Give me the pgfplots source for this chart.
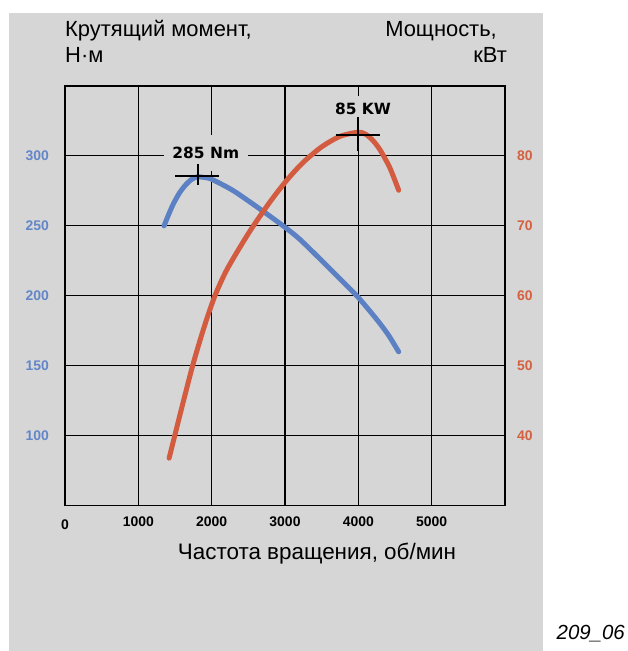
\documentclass[border=0pt]{standalone}
\usepackage{fontspec}
\setmainfont{Liberation Sans}
\newfontfamily\dejavu{DejaVu Sans}
\usepackage{pgfplots}
\pgfplotsset{compat=1.18}
\definecolor{panel}{HTML}{D6D6D6}
\definecolor{torque}{HTML}{5C80C4}
\definecolor{power}{HTML}{D35C40}
\definecolor{tickblue}{HTML}{6386C8}
\definecolor{tickred}{HTML}{D5603F}
\newcommand\tickfont{\bfseries\fontsize{14}{14}\selectfont}
\newcommand\annfont{\dejavu\bfseries\fontsize{15.5}{15.5}\selectfont}
\newcommand\titlefont{\fontsize{22}{22}\selectfont}
\pgfplotsset{
  common/.style={
    at={(65bp,145.3bp)}, anchor=south west, scale only axis,
    width=440bp, height=419.7bp,
    xmin=0, xmax=6000,
    clip=false,
    major tick length=0pt,
    /pgf/number format/assume math mode=true,
  }
}
\begin{document}
\begin{tikzpicture}[x=1bp,y=1bp]
\path[use as bounding box] (0,0) rectangle (628,651);
\fill[panel] (9,0) rectangle (543,638.3);
% titles
\node[anchor=base west, inner sep=0pt, font=\titlefont] at (65,614) {Крутящий момент,};
\node[anchor=base west, inner sep=0pt, font=\titlefont] at (65,588) {Н·м};
\node[anchor=base east, inner sep=0pt, font=\titlefont] at (497,614) {Мощность,};
\node[anchor=base east, inner sep=0pt, font=\titlefont] at (507,588) {кВт};
\node[anchor=base, inner sep=0pt, font=\fontsize{22.5}{22.5}\selectfont] at (317,91) {Частота вращения, об/мин};
\node[anchor=base east, inner sep=0pt, font=\itshape\fontsize{20.5}{20.5}\selectfont] at (625,11) {209\_06};
% axis 1: grid, frame, left labels, annotation boxes
\begin{axis}[common,
  ymin=50, ymax=350,
  xtick={0,1000,2000,3000,4000,5000},
  ytick={100,150,200,250,300},
  xticklabels={\raisebox{-2.5bp}[\height]{0},1000,2000,3000,4000,5000},
  grid=major, major grid style={black, line width=1.1bp},
  axis line style={black, line width=1.3bp},
  xticklabel style={font=\tickfont, inner sep=0pt, anchor=north, yshift=-11bp},
  yticklabel style={font=\tickfont, text=tickblue, inner sep=0pt, anchor=east, xshift=-16bp},
]
\node[fill=panel, inner xsep=8.5bp, inner ysep=12bp, font=\annfont] at (axis cs:1920,302) {285 Nm};
\node[fill=panel, inner xsep=6bp, inner ysep=7.5bp, font=\annfont] at (axis cs:4064,333.3) {85 KW};
\end{axis}
% axis 2: torque curve
\begin{axis}[common, ymin=50, ymax=350, hide axis]
\addplot[torque, line width=5bp, line cap=round, smooth, tension=0.45] coordinates {
(1350,250) (1420,259) (1480,266) (1560,273.5) (1640,279) (1720,283) (1800,285)
(1900,284.6) (2000,283.3) (2300,275) (2700,260.5) (3000,249) (3200,240.5)
(3500,225.2) (3800,209.5) (4000,198.8) (4250,183.2) (4410,172) (4550,160)};
\addplot[black, line width=1.8bp] coordinates {(1500,285.7) (2100,285.7)};
\addplot[black, line width=1.8bp] coordinates {(1810,279.5) (1810,294)};
\end{axis}
% axis 3: power curve, right axis
\begin{axis}[common, ymin=30, ymax=90,
  axis y line*=right, axis x line=none,
  axis line style={black, line width=1.3bp},
  ytick={40,50,60,70,80},
  yticklabel style={font=\tickfont, text=tickred, inner sep=0pt, anchor=west, xshift=12bp},
]
\addplot[power, line width=5bp, line cap=round, smooth, tension=0.45] coordinates {
(1420,36.8) (1580,43.5) (1740,50) (1890,55.3) (2040,59.9) (2200,63.6) (2400,67.2)
(2568,70) (2800,73.5) (3030,76.6) (3250,79.1) (3500,81.3) (3750,82.8) (4000,83.4)
(4100,83.1) (4200,82.2) (4300,80.8) (4430,78.3) (4550,75.1)};
\addplot[black, line width=1.8bp] coordinates {(3696,83.0) (4296,83.0)};
\addplot[black, line width=1.8bp] coordinates {(4000,80.7) (4000,85.6)};
\end{axis}
\end{tikzpicture}
\end{document}
